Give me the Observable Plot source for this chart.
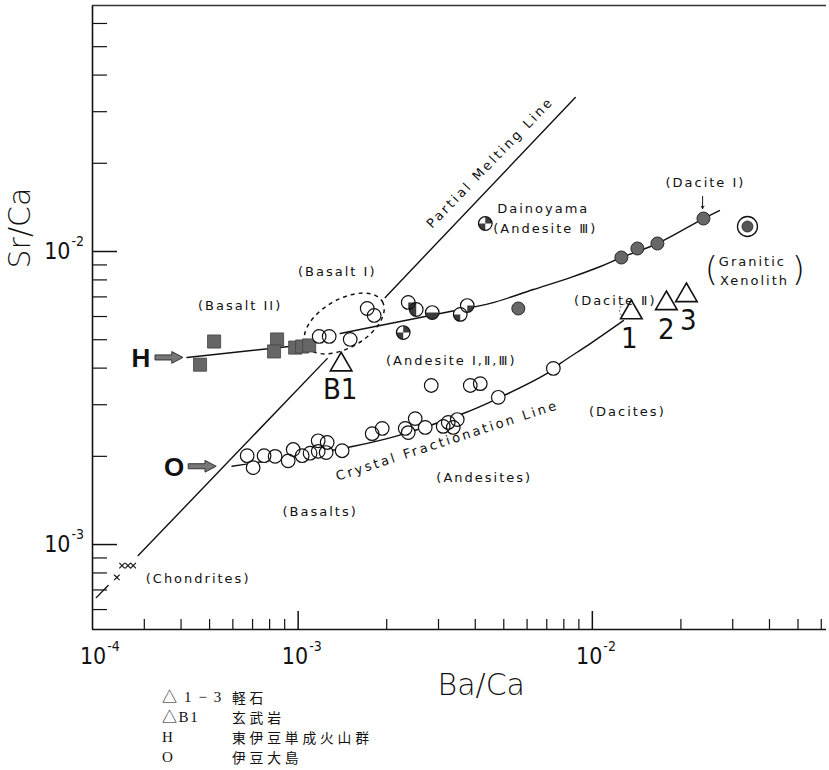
<!DOCTYPE html>
<html>
<head>
<meta charset="utf-8">
<script src="https://cdn.jsdelivr.net/npm/d3@7"></script>
<script src="https://cdn.jsdelivr.net/npm/@observablehq/plot@0.6"></script>
<style>
  html, body { margin: 0; padding: 0; background: white; }
  #wrap { position: relative; width: 829px; height: 770px; }
  #legend { position: absolute; left: 162px; top: 687px; font-family: "Liberation Serif", "Noto Sans CJK JP", serif; font-size: 13.8px; color: #111; }
  #legend .row { display: block; height: 20px; position: relative; }
  #legend span { position: absolute; top: 0; display: inline-block; height: 20px; line-height: 20px; white-space: nowrap; }
  #legend .c1 { left: 0; letter-spacing: 1.6px; font-size: 15px; }
  #legend .c2 { left: 70px; letter-spacing: 3.8px; font-family: "Noto Sans CJK JP", sans-serif; }
</style>
</head>
<body>
<div id="wrap">
  <div id="chart"></div>
  <div id="legend">
    <div class="row"><span class="c1">△ 1 − 3</span><span class="c2">軽石</span></div>
    <div class="row"><span class="c1">△B1</span><span class="c2">玄武岩</span></div>
    <div class="row"><span class="c1">H</span><span class="c2">東伊豆単成火山群</span></div>
    <div class="row"><span class="c1">O</span><span class="c2">伊豆大島</span></div>
  </div>
</div>
<script>
// ---------- scales & ticks ----------
const xDomain = [2e-4, 0.0625];
const yDomain = [5.13e-4, 0.0691];
const xMinorTicks = [3e-4,4e-4,5e-4,6e-4,7e-4,8e-4,9e-4,2e-3,3e-3,4e-3,5e-3,6e-3,7e-3,8e-3,9e-3,2e-2,3e-2,4e-2,5e-2,6e-2];
const xMajorTicks = [1e-3, 1e-2];
const yMinorTicks = [6e-4,7e-4,8e-4,9e-4,2e-3,3e-3,4e-3,5e-3,6e-3,7e-3,8e-3,9e-3,2e-2,3e-2,4e-2,5e-2,6e-2];
const yMajorTicks = [1e-3, 1e-2];
const xLabelValues = [2.06e-4, 1e-3, 1e-2];
const xLabelExp = ["-4", "-3", "-2"];
const yLabelValues = [1e-3, 1e-2];
const yLabelExp = ["-3", "-2"];

// ---------- data ----------
// Izu-Oshima (O), open circles
const oshimaBa = [6.71e-4,7.03e-4,7.66e-4,8.35e-4,9.25e-4,9.62e-4,1.032e-3,1.098e-3,1.170e-3,1.170e-3,1.255e-3,1.245e-3,1.411e-3,1.785e-3,1.931e-3,2.312e-3,2.367e-3,2.500e-3,2.704e-3,3.112e-3,3.237e-3,3.474e-3,3.367e-3,2.834e-3,3.846e-3,4.159e-3,4.789e-3,7.368e-3];
const oshimaSr = [2.01e-3,1.83e-3,2.01e-3,2.00e-3,1.93e-3,2.11e-3,2.01e-3,2.05e-3,2.26e-3,2.08e-3,2.23e-3,2.06e-3,2.09e-3,2.39e-3,2.49e-3,2.49e-3,2.41e-3,2.69e-3,2.51e-3,2.53e-3,2.61e-3,2.67e-3,2.51e-3,3.49e-3,3.49e-3,3.54e-3,3.18e-3,3.99e-3];
// Basalt I, open circles
const basaltIBa = [1.179e-3,1.275e-3,1.503e-3,1.717e-3,1.813e-3];
const basaltISr = [5.13e-3,5.13e-3,5.01e-3,6.39e-3,6.05e-3];
// Andesite I-III (and Dainoyama), partly filled circles
const andBa = [2.367e-3,2.520e-3,2.856e-3,3.556e-3,3.756e-3,2.276e-3,4.326e-3];
const andSr = [6.70e-3,6.34e-3,6.19e-3,6.10e-3,6.54e-3,5.29e-3,1.246e-2];
const andPattern = ["lowerRight","leftHalf","lowerHalf","lowerLeft","lowerRight","cross","cross"];
// Dacite I, filled circles
const daciteBa = [5.602e-3,1.255e-2,1.423e-2,1.664e-2,2.386e-2];
const daciteSr = [6.39e-3,9.54e-3,1.024e-2,1.065e-2,1.296e-2];
// Granitic xenolith
const xenoBa = [3.367e-2];
const xenoSr = [1.217e-2];
// East Izu monogenetic volcanoes (H), squares
const hBa = [4.64e-4,5.18e-4,8.48e-4,8.28e-4,9.77e-4,1.032e-3,1.090e-3];
const hSr = [4.11e-3,4.93e-3,5.01e-3,4.56e-3,4.70e-3,4.74e-3,4.78e-3];
// pumice 1-3 and basalt B1, triangles
const triBa = [1.357e-2,1.785e-2,2.088e-2,1.400e-3];
const triSr = [6.19e-3,6.65e-3,7.08e-3,4.11e-3];
const triLabel = ["1","2","3","B1"];
const triLabelBa = [1.336e-2,1.785e-2,2.121e-2,1.390e-3];
const triLabelSr = [5.05e-3,5.42e-3,5.81e-3,3.38e-3];
// chondrites
const chondBa = [2.42e-4,2.52e-4,2.64e-4,2.75e-4];
const chondSr = [7.72e-4,8.48e-4,8.48e-4,8.48e-4];

// ---------- lines ----------
const pmlSeg = [0,0,1,1,2,2];
const pmlBa = [2.06e-4,2.26e-4,2.86e-4,1.255e-3,1.977e-3,8.75e-3];
const pmlSr = [6.59e-4,7.25e-4,9.17e-4,4.31e-3,6.97e-3,3.354e-2];
const hLineBa = [4.19e-4, 9.32e-4];
const hLineSr = [4.35e-3, 4.74e-3];
const upperBa = [1.390e-3,2.223e-3,3.289e-3,4.498e-3,6.301e-3,8.418e-3,1.065e-2,1.255e-2,1.664e-2,2.386e-2,2.704e-2];
const upperSr = [5.25e-3,5.77e-3,6.24e-3,6.65e-3,7.42e-3,8.15e-3,8.89e-3,9.54e-3,1.065e-2,1.296e-2,1.380e-2];
const cflBa = [5.96e-4,1.016e-3,1.527e-3,2.171e-3,3.640e-3,4.606e-3,7.087e-3,7.785e-3,9.84e-3,1.275e-2];
const cflSr = [1.85e-3,2.01e-3,2.16e-3,2.35e-3,2.80e-3,3.10e-3,3.86e-3,4.15e-3,4.85e-3,5.81e-3];
const ellipseBa = [1.434e-3];
const ellipseSr = [5.68e-3];
const daciteIIBa = [1.305e-2];
const daciteIISr = [6.29e-3];

// ---------- annotations ----------
const annText = ["(Basalt II)","(Basalt I)","(Dacite I)","(Dacite Ⅱ)","(Andesite I,Ⅱ,Ⅲ)","(Andesites)","(Dacites)","(Basalts)","(Chondrites)","Granitic","Xenolith"];
const annBa = [6.35e-4,1.358e-3,2.423e-2,1.197e-2,3.314e-3,4.29e-3,1.315e-2,1.188e-3,4.57e-4,3.50e-2,3.556e-2];
const annSr = [6.54e-3,8.55e-3,1.72e-2,6.81e-3,4.25e-3,1.69e-3,2.84e-3,1.296e-3,7.66e-4,9.24e-3,7.96e-3];
const annStartText = ["Dainoyama","(Andesite Ⅲ)"];
const annStartBa = [4.75e-3,4.606e-3];
const annStartSr = [1.402e-2,1.198e-2];
const rotText = ["Partial Melting Line","Crystal Fractionation Line"];
const rotBa = [4.498e-3,3.212e-3];
const rotSr = [2.01e-2,2.26e-3];
const rotAngle = [-46,-18];
const parenText = ["(", ")"];
const parenBa = [2.54e-2, 5.02e-2];
const parenSr = [8.61e-3, 8.61e-3];
const pointerLetter = ["H","O"];
const pointerLetterBa = [2.92e-4,3.79e-4];
const pointerLetterSr = [4.31e-3,1.83e-3];
const pointerBa = [3.64e-4,4.72e-4];
const pointerSr = [4.35e-3,1.85e-3];
const daciteArrowBa = [2.37e-2];
const daciteArrowFrom = [1.541e-2];
const daciteArrowTo = [1.402e-2];

// ---------- build tables ----------
const zip = (xs, ys, extra = {}) => xs.map((x, i) => {
  const o = {x, y: ys[i]};
  for (const k in extra) o[k] = extra[k][i];
  return o;
});
const oshima = zip(oshimaBa, oshimaSr);
const basaltI = zip(basaltIBa, basaltISr);
const andesite = zip(andBa, andSr, {p: andPattern});
const dacite = zip(daciteBa, daciteSr);
const xeno = zip(xenoBa, xenoSr);
const hPts = zip(hBa, hSr);
const tri = zip(triBa, triSr);
const triLab = zip(triLabelBa, triLabelSr, {t: triLabel});
const chond = zip(chondBa, chondSr);
const pml = zip(pmlBa, pmlSr, {s: pmlSeg});
const hLine = zip(hLineBa, hLineSr);
const upper = zip(upperBa, upperSr);
const cfl = zip(cflBa, cflSr);
const ellipse = zip(ellipseBa, ellipseSr);
const daciteII = zip(daciteIIBa, daciteIISr);
const ann = zip(annBa, annSr, {t: annText});
const annStart = zip(annStartBa, annStartSr, {t: annStartText});
const rot = zip(rotBa, rotSr, {t: rotText, a: rotAngle});
const paren = zip(parenBa, parenSr, {t: parenText});
const ptrLetter = zip(pointerLetterBa, pointerLetterSr, {t: pointerLetter});
const ptr = zip(pointerBa, pointerSr);
const dArrow = zip(daciteArrowBa, daciteArrowFrom, {y2: daciteArrowTo});
const xLab = zip(xLabelValues, xLabelValues, {e: xLabelExp});
const yLab = zip(yLabelValues, yLabelValues, {e: yLabelExp});

// ---------- custom symbols ----------
const wedge = (ranges) => ({
  draw(ctx, size) {
    const r = Math.sqrt(size / Math.PI);
    for (const [a0, a1] of ranges) { ctx.moveTo(0, 0); ctx.arc(0, 0, r, a0, a1); ctx.closePath(); }
  }
});
const P = Math.PI;
const wedges = {
  lowerRight: wedge([[0, P/2]]),
  leftHalf: wedge([[P/2, 3*P/2]]),
  lowerHalf: wedge([[0, P]]),
  lowerLeft: wedge([[P/2, P]]),
  cross: wedge([[-P/2, 0], [P/2, P]])
};
const ellipseSym = {
  draw(ctx, size) {
    const a = Math.sqrt(size / Math.PI), b = 0.55 * a, k = 0.5523;
    ctx.moveTo(a, 0);
    ctx.bezierCurveTo(a, k*b, k*a, b, 0, b);
    ctx.bezierCurveTo(-k*a, b, -a, k*b, -a, 0);
    ctx.bezierCurveTo(-a, -k*b, -k*a, -b, 0, -b);
    ctx.bezierCurveTo(k*a, -b, a, -k*b, a, 0);
    ctx.closePath();
  }
};
const arrowSym = {
  draw(ctx, size) {
    const r = Math.sqrt(size / Math.PI), sh = 0.18*r, hh = 0.42*r, hx = 0.2*r;
    ctx.moveTo(-r, -sh); ctx.lineTo(hx, -sh); ctx.lineTo(hx, -hh); ctx.lineTo(r, 0);
    ctx.lineTo(hx, hh); ctx.lineTo(hx, sh); ctx.lineTo(-r, sh); ctx.closePath();
  }
};

const numFont = "Liberation Sans Narrow, DejaVu Sans Condensed, sans-serif";
const CIRCLE_R = 6.8;

const chart = Plot.plot({
  width: 829,
  height: 705,
  marginLeft: 92,
  marginRight: 3,
  marginTop: 5,
  marginBottom: 76,
  style: {fontFamily: "DejaVu Sans, sans-serif", background: "white", color: "#111", overflow: "visible"},
  x: {type: "log", domain: xDomain, axis: null},
  y: {type: "log", domain: yDomain, axis: null},
  marks: [
    // frame
    Plot.ruleX([xDomain[0]], {stroke: "#111", strokeWidth: 1.6}),
    Plot.ruleY([yDomain[0]], {stroke: "#111", strokeWidth: 1.6}),
    Plot.ruleY([yDomain[1]], {stroke: "#333", strokeWidth: 1.4}),
    // ticks (inward)
    Plot.axisX(xMinorTicks, {anchor: "bottom", tickSize: -10, tickFormat: () => "", label: null, strokeWidth: 1.2}),
    Plot.axisX(xMajorTicks, {anchor: "bottom", tickSize: -18, tickFormat: () => "", label: null, strokeWidth: 1.5}),
    Plot.axisY(yMinorTicks, {anchor: "left", tickSize: -15, tickFormat: () => "", label: null, strokeWidth: 1.2}),
    Plot.axisY(yMajorTicks, {anchor: "left", tickSize: -25, tickFormat: () => "", label: null, strokeWidth: 1.5}),
    // tick labels: "10" with a raised exponent
    Plot.text(xLab, {x: "x", frameAnchor: "bottom", dx: 10, dy: 27, text: () => "10", fontSize: 23, fontFamily: numFont, textAnchor: "end", lineAnchor: "middle"}),
    Plot.text(xLab, {x: "x", frameAnchor: "bottom", dx: 11, dy: 17, text: "e", fontSize: 14, fontFamily: numFont, textAnchor: "start", lineAnchor: "middle"}),
    Plot.text(yLab, {y: "y", frameAnchor: "left", dx: -22, text: () => "10", fontSize: 23, fontFamily: numFont, textAnchor: "end", lineAnchor: "middle"}),
    Plot.text(yLab, {y: "y", frameAnchor: "left", dx: -21, dy: -10, text: "e", fontSize: 14, fontFamily: numFont, textAnchor: "start", lineAnchor: "middle"}),
    // axis titles
    Plot.text(["Sr/Ca"], {frameAnchor: "top-left", dx: -72, dy: 263, rotate: -90, fontSize: 30, fontWeight: 300, lineAnchor: "middle"}),
    Plot.text(["Ba/Ca"], {frameAnchor: "bottom-left", dx: 345, dy: 56, fontSize: 30, fontWeight: 300, lineAnchor: "middle"}),
    // lines
    Plot.line(pml, {x: "x", y: "y", z: "s", stroke: "#111", strokeWidth: 1.4}),
    Plot.line(hLine, {x: "x", y: "y", stroke: "#111", strokeWidth: 1.4}),
    Plot.line(upper, {x: "x", y: "y", curve: "catmull-rom", stroke: "#111", strokeWidth: 1.4}),
    Plot.line(cfl, {x: "x", y: "y", curve: "catmull-rom", stroke: "#111", strokeWidth: 1.4}),
    // dashed ellipse around Basalt I
    Plot.dot(ellipse, {x: "x", y: "y", symbol: ellipseSym, r: 44, rotate: -30, fill: "none", stroke: "#111", strokeWidth: 1.5, strokeDasharray: "4,4"}),
    // chondrites
    Plot.dot(chond, {x: "x", y: "y", symbol: "times", r: 2.6, stroke: "#111", strokeWidth: 1.1}),
    // H squares
    Plot.dot(hPts, {x: "x", y: "y", symbol: "square", r: 7.4, fill: "#666", stroke: "#444", strokeWidth: 0.8}),
    // circle masks then outlines
    Plot.dot([...oshima, ...basaltI, ...andesite, ...daciteII], {x: "x", y: "y", r: CIRCLE_R, fill: "white", stroke: "none"}),
    Plot.dot([...oshima, ...basaltI], {x: "x", y: "y", r: CIRCLE_R, fill: "none", stroke: "#111", strokeWidth: 1.2}),
    Plot.dot(daciteII, {x: "x", y: "y", r: CIRCLE_R, fill: "none", stroke: "#555", strokeWidth: 1, strokeDasharray: "2,2"}),
    ...Object.keys(wedges).map(k => Plot.dot(andesite.filter(d => d.p === k), {x: "x", y: "y", r: CIRCLE_R, symbol: wedges[k], fill: "#3c3c3c", stroke: "none"})),
    Plot.dot(andesite, {x: "x", y: "y", r: CIRCLE_R, fill: "none", stroke: "#111", strokeWidth: 1.2}),
    // dacite filled circles
    Plot.dot(dacite, {x: "x", y: "y", r: 6.5, fill: "#676767", stroke: "#2a2a2a", strokeWidth: 1}),
    // granitic xenolith
    Plot.dot(xeno, {x: "x", y: "y", r: 10, fill: "white", stroke: "#111", strokeWidth: 1.3}),
    Plot.dot(xeno, {x: "x", y: "y", r: 5.5, fill: "#555", stroke: "#222", strokeWidth: 0.8}),
    // triangles
    Plot.dot(tri, {x: "x", y: "y", symbol: "triangle", r: 8, fill: "white", stroke: "#111", strokeWidth: 1.6}),
    Plot.text(triLab, {x: "x", y: "y", text: "t", fontSize: 29, fontFamily: numFont, lineAnchor: "middle"}),
    // H / O pointers
    Plot.text(ptrLetter, {x: "x", y: "y", text: "t", fontSize: 26, fontWeight: "bold", fontFamily: "Liberation Sans, sans-serif", lineAnchor: "middle"}),
    Plot.dot(ptr, {x: "x", y: "y", symbol: arrowSym, r: 14, fill: "#777", stroke: "#333", strokeWidth: 1}),
    // small arrow to Dacite I
    Plot.arrow(dArrow, {x: "x", y1: "y", y2: "y2", stroke: "#111", strokeWidth: 1, headLength: 4}),
    // annotations
    Plot.text(ann, {x: "x", y: "y", text: "t", fontSize: 13, lineAnchor: "middle"}),
    Plot.text(annStart, {x: "x", y: "y", text: "t", fontSize: 13, textAnchor: "start", lineAnchor: "middle"}),
    Plot.text(rot, {x: "x", y: "y", text: "t", rotate: "a", fontSize: 13, lineAnchor: "middle"}),
    Plot.text(paren, {x: "x", y: "y", text: "t", fontSize: 34, fontWeight: 300, lineAnchor: "middle"})
  ]
});
document.getElementById("chart").appendChild(chart);

// widen the letter spacing of the annotation texts, as in the reference
const spaced = new Set([...annText, ...annStartText]);
const spacedRot = new Set(rotText);
d3.select(chart).selectAll("text").each(function () {
  const t = this.textContent;
  if (spaced.has(t)) this.style.letterSpacing = "2px";
  else if (spacedRot.has(t)) this.style.letterSpacing = "2.6px";
});
</script>
</body>
</html>
